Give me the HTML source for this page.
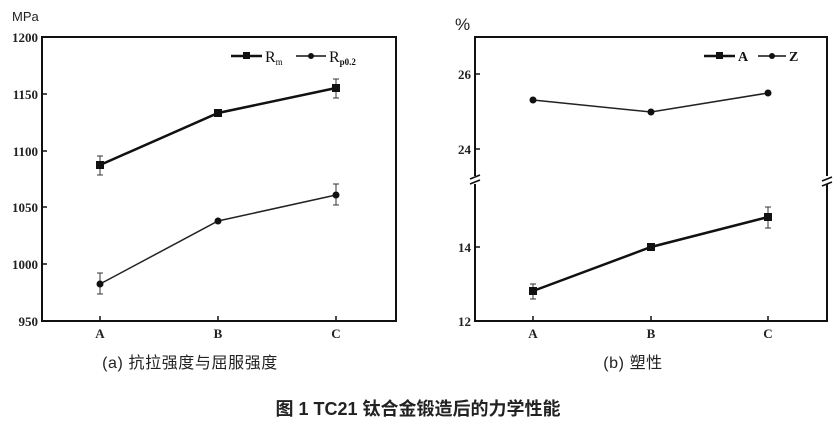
<!DOCTYPE html>
<html><head><meta charset="utf-8"><style>
body{margin:0;background:#fff;width:837px;height:427px;overflow:hidden}
svg{display:block}
</style></head><body>
<svg width="837" height="427" xmlns="http://www.w3.org/2000/svg" font-family="Liberation Serif, serif">
<rect width="837" height="427" fill="#fff"/>
<!-- left chart -->
<text x="12" y="21" font-family="Liberation Sans, sans-serif" font-size="13" fill="#222">MPa</text>
<rect x="42" y="37" width="354" height="284" fill="none" stroke="#111" stroke-width="2"/>
<g font-size="13" font-weight="bold" fill="#222" text-anchor="end">
<text x="38" y="42">1200</text><text x="38" y="99">1150</text><text x="38" y="156">1100</text>
<text x="38" y="212">1050</text><text x="38" y="269">1000</text><text x="38" y="326">950</text>
</g>
<g stroke="#111" stroke-width="1.5">
<line x1="42" y1="94" x2="47" y2="94"/><line x1="42" y1="151" x2="47" y2="151"/><line x1="42" y1="207" x2="47" y2="207"/><line x1="42" y1="264" x2="47" y2="264"/>
<line x1="100" y1="321" x2="100" y2="316"/><line x1="218" y1="321" x2="218" y2="316"/><line x1="336" y1="321" x2="336" y2="316"/>
</g>
<g font-size="13" font-weight="bold" fill="#222" text-anchor="middle">
<text x="100" y="338">A</text><text x="218" y="338">B</text><text x="336" y="338">C</text>
</g>
<polyline points="100,165 218,113 336,88" fill="none" stroke="#111" stroke-width="2.5"/>
<polyline points="100,284 218,221 336,195" fill="none" stroke="#222" stroke-width="1.5"/>
<g stroke="#333" stroke-width="1">
<line x1="100" y1="156" x2="100" y2="175"/><line x1="97" y1="156" x2="103" y2="156"/><line x1="97" y1="175" x2="103" y2="175"/>
<line x1="336" y1="79" x2="336" y2="98"/><line x1="333" y1="79" x2="339" y2="79"/><line x1="333" y1="98" x2="339" y2="98"/>
<line x1="100" y1="273" x2="100" y2="294"/><line x1="97" y1="273" x2="103" y2="273"/><line x1="97" y1="294" x2="103" y2="294"/>
<line x1="336" y1="184" x2="336" y2="205"/><line x1="333" y1="184" x2="339" y2="184"/><line x1="333" y1="205" x2="339" y2="205"/>
</g>
<g fill="#111"><rect x="96" y="161" width="8" height="8"/><rect x="214" y="109" width="8" height="8"/><rect x="332" y="84" width="8" height="8"/>
<circle cx="100" cy="284" r="3.5"/><circle cx="218" cy="221" r="3.5"/><circle cx="336" cy="195" r="3.5"/></g>
<line x1="231" y1="56" x2="262" y2="56" stroke="#111" stroke-width="2.5"/><rect x="243" y="52" width="7" height="7" fill="#111"/>
<text x="265" y="62" font-size="16" fill="#111">R<tspan font-size="9" dy="3">m</tspan></text>
<line x1="296" y1="56" x2="326" y2="56" stroke="#111" stroke-width="1.5"/><circle cx="311" cy="56" r="3" fill="#111"/>
<text x="329" y="62" font-size="16" fill="#111">R<tspan font-size="9" dy="3" font-weight="bold">p0.2</tspan></text>
<!-- right chart -->
<text x="455" y="30" font-family="Liberation Sans, sans-serif" font-size="17" fill="#222">%</text>
<rect x="475" y="37" width="352" height="284" fill="none" stroke="#111" stroke-width="2"/>
<rect x="470" y="176" width="12" height="8" fill="#fff"/><rect x="820" y="176" width="12" height="8" fill="#fff"/>
<g stroke="#111" stroke-width="1.5">
<line x1="470" y1="179" x2="480" y2="175"/><line x1="470" y1="184" x2="480" y2="180"/>
<line x1="822" y1="181" x2="832" y2="177"/><line x1="822" y1="186" x2="832" y2="182"/>
<line x1="475" y1="74" x2="480" y2="74"/><line x1="475" y1="149" x2="480" y2="149"/><line x1="475" y1="247" x2="480" y2="247"/>
<line x1="533" y1="321" x2="533" y2="316"/><line x1="651" y1="321" x2="651" y2="316"/><line x1="768" y1="321" x2="768" y2="316"/>
</g>
<g font-size="13" font-weight="bold" fill="#222" text-anchor="end">
<text x="471" y="79">26</text><text x="471" y="154">24</text><text x="471" y="252">14</text><text x="471" y="326">12</text>
</g>
<g font-size="13" font-weight="bold" fill="#222" text-anchor="middle">
<text x="533" y="338">A</text><text x="651" y="338">B</text><text x="768" y="338">C</text>
</g>
<polyline points="533,100 651,112 768,93" fill="none" stroke="#222" stroke-width="1.5"/>
<polyline points="533,291 651,247 768,217" fill="none" stroke="#111" stroke-width="2.5"/>
<g stroke="#333" stroke-width="1">
<line x1="533" y1="284" x2="533" y2="299"/><line x1="530" y1="284" x2="536" y2="284"/><line x1="530" y1="299" x2="536" y2="299"/>
<line x1="768" y1="207" x2="768" y2="228"/><line x1="765" y1="207" x2="771" y2="207"/><line x1="765" y1="228" x2="771" y2="228"/>
</g>
<g fill="#111"><circle cx="533" cy="100" r="3.5"/><circle cx="651" cy="112" r="3.5"/><circle cx="768" cy="93" r="3.5"/>
<rect x="529" y="287" width="8" height="8"/><rect x="647" y="243" width="8" height="8"/><rect x="764" y="213" width="8" height="8"/></g>
<line x1="704" y1="56" x2="735" y2="56" stroke="#111" stroke-width="2.5"/><rect x="716" y="52" width="7" height="7" fill="#111"/>
<text x="738" y="61" font-size="14" font-weight="bold" fill="#111">A</text>
<line x1="758" y1="56" x2="786" y2="56" stroke="#111" stroke-width="1.5"/><circle cx="772" cy="56" r="3" fill="#111"/>
<text x="789" y="61" font-size="14" font-weight="bold" fill="#111">Z</text>
<!-- captions -->
<g font-family="Liberation Sans, Noto Sans CJK SC, sans-serif" fill="#222" text-anchor="middle">
<text x="190" y="368" font-size="16" letter-spacing="0.6">(a) 抗拉强度与屈服强度</text>
<text x="633" y="368" font-size="16" letter-spacing="0.6">(b) 塑性</text>
<text x="418" y="415" font-size="18" font-weight="bold">图 1  TC21 钛合金锻造后的力学性能</text>
</g>
</svg>
</body></html>
